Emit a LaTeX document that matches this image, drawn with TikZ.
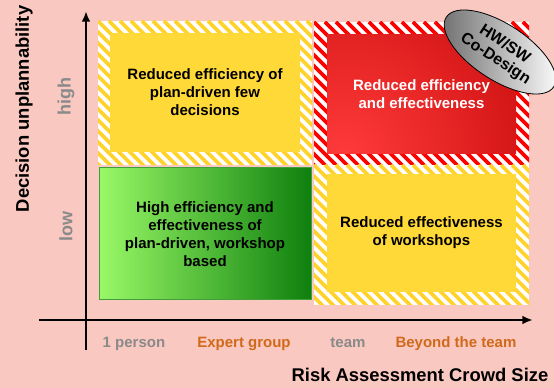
\documentclass[tikz,border=0pt]{standalone}
\usepackage{fontspec}
\setmainfont{Liberation Sans}
\usetikzlibrary{arrows.meta,shapes.geometric}
\definecolor{bgpink}{HTML}{F9C8C0}
\definecolor{boxyellow}{HTML}{FFD938}
\definecolor{stripeyellow}{HTML}{FFD22C}
\definecolor{stripered}{HTML}{FF0000}
\definecolor{reddark}{HTML}{C40808}
\definecolor{redlight}{HTML}{FF3A3A}
\definecolor{greenlight}{HTML}{99F866}
\definecolor{greenmid}{HTML}{7FD858}
\definecolor{greendark}{HTML}{0E800E}
\definecolor{greenedge}{HTML}{3FA03A}
\definecolor{labelgrey}{HTML}{8A8A8A}
\definecolor{labelorange}{HTML}{D06A1A}
\def\px{0.75pt}
\newcommand\myhatch[5]{%
  \fill[white] (#1,#2) rectangle (#3,#4);
  \begin{scope}
    \clip (#1,#2) rectangle (#3,#4);
    \foreach \k in {-165,-154,...,231}
      \draw[#5, line width=2.9pt] ({#1+\k},#2) -- ++(260,260);
  \end{scope}}
\tikzset{
  boxtext/.style={font=\fontsize{11.25}{13.5}\selectfont\bfseries, align=center, inner sep=0pt},
  axislabel/.style={font=\fontsize{13.8}{16}\selectfont\bfseries},
  levellabel/.style={font=\fontsize{13.5}{16}\selectfont\bfseries, text=labelgrey},
  ticklabel/.style={font=\fontsize{11.25}{13}\selectfont\bfseries, anchor=base},
  axisline/.style={line width=1.6pt, -{Latex[length=8pt,width=6.5pt]}},
}
\begin{document}
\begin{tikzpicture}[x=0.75pt,y=-0.75pt]
\useasboundingbox (0,0) rectangle (554,388);
\fill[bgpink] (0,0) rectangle (554,388);

% hatched frames
\myhatch{98}{21}{312}{165}{stripeyellow}
\myhatch{314}{22}{529}{165}{stripered}
\myhatch{314}{165}{529}{305}{stripeyellow}

% red shaded inner
\begin{scope}
  \clip (327,35) rectangle (516,154);
  \shade[inner color=redlight, outer color=reddark] (345,155) circle (250);
\end{scope}

% inner boxes with text
\node[boxtext, fill=boxyellow, minimum width=190*\px, minimum height=119*\px] (tl) at (205,92.5)
  {Reduced efficiency of\\plan-driven few\\decisions};
\node[boxtext, text=white, minimum width=189*\px, minimum height=119*\px] (tr) at (421.5,94.5)
  {Reduced efficiency\\and effectiveness};
\node[boxtext, fill=boxyellow, minimum width=189*\px, minimum height=118*\px] (br) at (421.5,233)
  {Reduced effectiveness\\of workshops};
\node[boxtext, left color=greenlight, middle color=greenmid, right color=greendark,
      draw=greenedge, line width=0.75pt, minimum width=212*\px, minimum height=132*\px] (bl) at (205,234)
  {High efficiency and\\effectiveness of\\plan-driven, workshop\\based};

% ellipse
\node[ellipse, draw=black, line width=0.6pt, left color=gray!85!black, right color=white,
      minimum width=128*\px, minimum height=56*\px, inner sep=0pt, rotate=-33,
      font=\fontsize{12}{13}\selectfont\bfseries, align=center] (hw) at (500,52)
  {HW/SW\\Co-Design};

% axes
\coordinate (vb) at (86,350);
\coordinate (vt) at (86,11);
\coordinate (hl) at (39,320);
\coordinate (hr) at (533,320);
\draw[axisline] (vb) -- (vt);
\draw[axisline] (hl) -- (hr);

% axis labels
\node[axislabel, rotate=90] (ylab) at (24,109) {Decision unplannability};
\node[levellabel, rotate=90] (high) at (66,97) {high};
\node[levellabel, rotate=90] (low) at (66,227) {low};
\node[ticklabel, text=labelgrey] (t1) at (134,348) {1 person};
\node[ticklabel, text=labelorange] (t2) at (244,348) {Expert group};
\node[ticklabel, text=labelgrey] (t3) at (348,348) {team};
\node[ticklabel, text=labelorange] (t4) at (456,348) {Beyond the team};
\node[axislabel, anchor=base] (xlab) at (420,382) {Risk Assessment Crowd Size};
\end{tikzpicture}
\end{document}
